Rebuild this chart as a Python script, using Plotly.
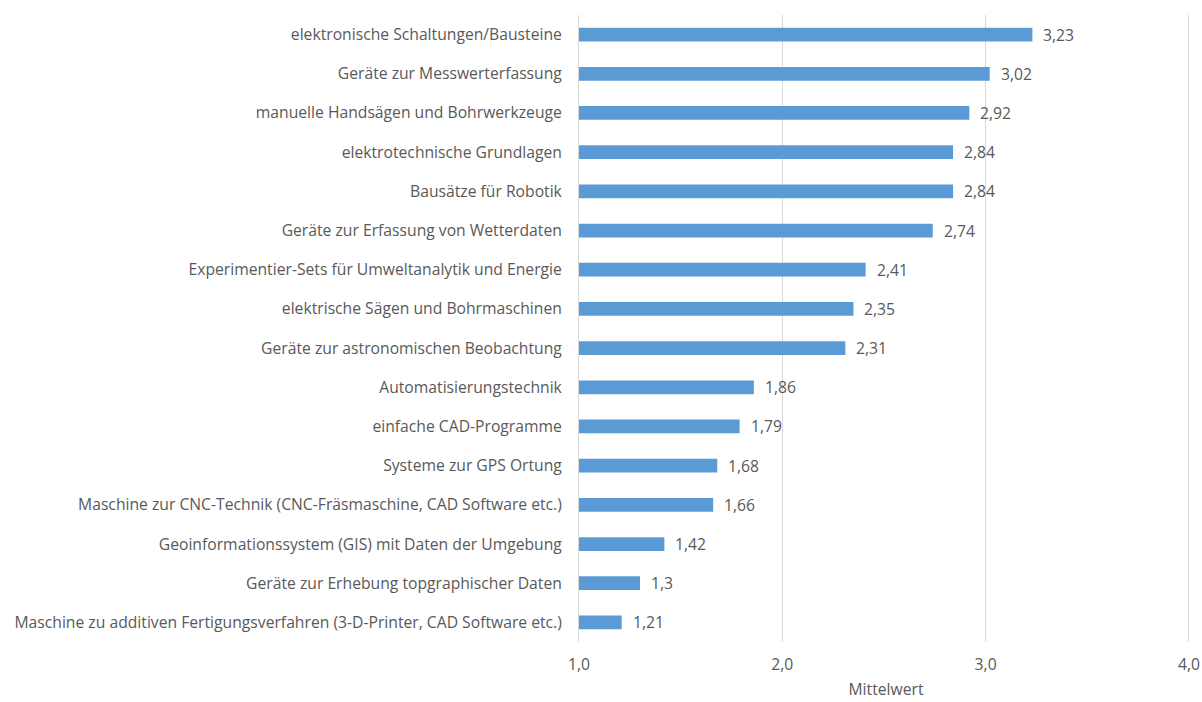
import plotly.graph_objects as go

# Items, listed from top to bottom
categories = [
    "elektronische Schaltungen/Bausteine",
    "Geräte zur Messwerterfassung",
    "manuelle Handsägen und Bohrwerkzeuge",
    "elektrotechnische Grundlagen",
    "Bausätze für Robotik",
    "Geräte zur Erfassung von Wetterdaten",
    "Experimentier-Sets für Umweltanalytik und Energie",
    "elektrische Sägen und Bohrmaschinen",
    "Geräte zur astronomischen Beobachtung",
    "Automatisierungstechnik",
    "einfache CAD-Programme",
    "Systeme zur GPS Ortung",
    "Maschine zur CNC-Technik (CNC-Fräsmaschine, CAD Software etc.)",
    "Geoinformationssystem (GIS) mit Daten der Umgebung",
    "Geräte zur Erhebung topgraphischer Daten",
    "Maschine zu additiven Fertigungsverfahren (3-D-Printer, CAD Software etc.)",
]
mittelwert = [3.23, 3.02, 2.92, 2.84, 2.84, 2.74, 2.41, 2.35, 2.31,
              1.86, 1.79, 1.68, 1.66, 1.42, 1.30, 1.21]

FONT = "Open Sans"
SIZE = 15.7
TEXT_COLOR = "#595959"
GRID = "#D9D9D9"

fig = go.Figure()
fig.add_trace(go.Bar(
    x=mittelwert,
    y=categories,
    orientation="h",
    marker=dict(color="#5B9BD5", line=dict(width=0)),
    width=0.35,
    hoverinfo="skip",
))

# value labels to the right of each bar
for cat, v in zip(categories, mittelwert):
    fig.add_annotation(
        x=v, y=cat, xref="x", yref="y",
        text=f"{v:g}".replace(".", ","),
        showarrow=False, xanchor="left", xshift=9,
        font=dict(family=FONT, size=SIZE, color=TEXT_COLOR),
    )

fig.update_layout(
    width=1202, height=702,
    margin=dict(l=579, r=9, t=15, b=60),
    paper_bgcolor="white", plot_bgcolor="white",
    separators=",.",
    showlegend=False,
    font=dict(family=FONT, size=SIZE, color=TEXT_COLOR),
    xaxis=dict(
        range=[1, 4.02], tickvals=[1, 2, 3, 4], tickformat=".1f",
        showgrid=True, gridcolor=GRID, gridwidth=1,
        zeroline=False, showline=False, automargin=False,
        ticks="outside", ticklen=8, tickcolor="rgba(0,0,0,0)",
        title=dict(text="Mittelwert", standoff=10,
                   font=dict(family=FONT, size=SIZE, color=TEXT_COLOR)),
        tickfont=dict(family=FONT, size=SIZE, color=TEXT_COLOR),
    ),
    yaxis=dict(
        autorange="reversed",
        showgrid=False, zeroline=False, automargin=False,
        showline=True, linecolor=GRID, linewidth=1,
        ticks="outside", ticklen=13, tickcolor="rgba(0,0,0,0)",
        tickfont=dict(family=FONT, size=SIZE, color=TEXT_COLOR),
    ),
)

fig.write_html("out.html")
